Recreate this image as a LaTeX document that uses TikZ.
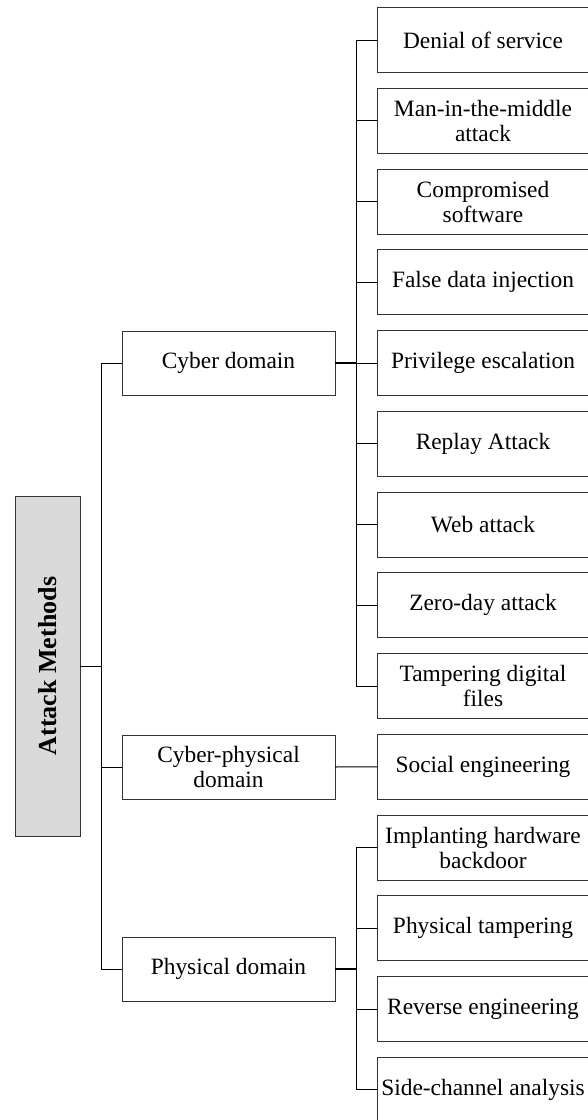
\documentclass[tikz,border=0pt]{standalone}
\usepackage{fontspec}
\setmainfont{Liberation Serif}
\definecolor{boxgray}{HTML}{DADADA}
\definecolor{edge}{HTML}{333333}
\begin{document}
\begin{tikzpicture}[x=1pt,y=-1pt,
  every node/.style={inner sep=0pt, outer sep=0pt},
  leaf/.style={draw=edge, line width=1pt, minimum width=212pt, minimum height=65pt, align=center,
    font=\fontsize{23.4}{25}\selectfont},
  mid/.style={draw=edge, line width=1pt, minimum width=213pt, minimum height=64pt, align=center,
    font=\fontsize{23.4}{25}\selectfont},
  rootbox/.style={draw=edge, line width=1pt, fill=boxgray, minimum width=340pt, minimum height=65pt,
    rotate=90, font=\fontsize{26}{28}\selectfont\bfseries},
  conn/.style={line width=1pt, black}]
\useasboundingbox (0,0) rectangle (588,1120);
% root
\node[rootbox] (am) at (47.5,666) {Attack Methods};
% level 1
\node[mid] (cyb) at (228.5,363) {Cyber domain};
\node[mid] (cph) at (228.5,767) {Cyber-physical\\domain};
\node[mid] (phy) at (228.5,969) {Physical domain};
% leaves
\node[leaf] (d1) at (483,40) {Denial of service};
\node[leaf] (d2) at (483,120.75) {Man-in-the-middle\\attack};
\node[leaf] (d3) at (483,201.5) {Compromised\\software};
\node[leaf] (d4) at (483,282.25) {False data injection};
\node[leaf] (d5) at (483,363) {Privilege escalation};
\node[leaf] (d6) at (483,443.75) {Replay Attack};
\node[leaf] (d7) at (483,524.5) {Web attack};
\node[leaf] (d8) at (483,605.25) {Zero-day attack};
\node[leaf] (d9) at (483,686) {Tampering digital\\files};
\node[leaf] (soc) at (483,766.75) {Social engineering};
\node[leaf] (p1) at (483,847.5) {Implanting hardware\\backdoor};
\node[leaf] (p2) at (483,928.25) {Physical tampering};
\node[leaf] (p3) at (483,1009) {Reverse engineering};
\node[leaf] (p4) at (483,1089.75) {Side-channel analysis};
% spines
\coordinate (s1) at (101,0);
\coordinate (s2) at (356,0);
\draw[conn] (am.south) -- (s1 |- am.south);
\draw[conn] (s1 |- cyb.west) -- (s1 |- phy.west);
\foreach \c in {cyb,cph,phy} \draw[conn] (s1 |- \c.west) -- (\c.west);
\draw[conn, line width=1.4pt] (cyb.east) -- (s2 |- cyb.east);
\draw[conn] (s2 |- d1.west) -- (s2 |- d9.west);
\foreach \c in {d1,d2,d3,d4,d5,d6,d7,d8,d9} \draw[conn] (s2 |- \c.west) -- (\c.west);
\draw[conn] (cph.east) -- (soc.west);
\draw[conn, line width=1.4pt] (phy.east) -- (s2 |- phy.east);
\draw[conn] (s2 |- p1.west) -- (s2 |- p4.west);
\foreach \c in {p1,p2,p3,p4} \draw[conn] (s2 |- \c.west) -- (\c.west);
\end{tikzpicture}
\end{document}
